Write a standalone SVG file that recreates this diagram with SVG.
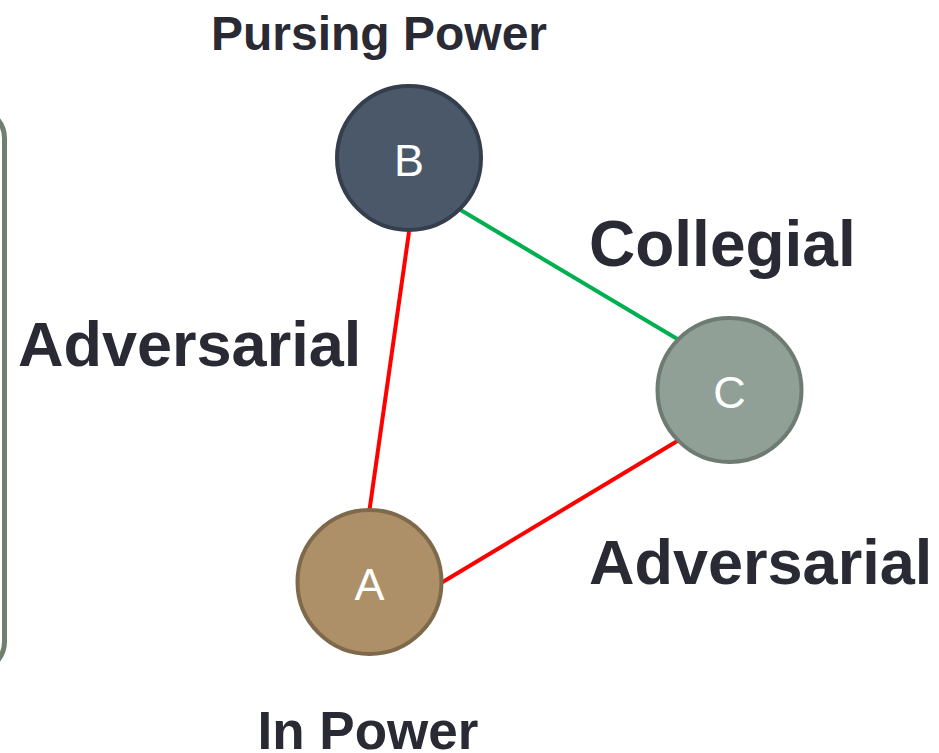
<svg xmlns="http://www.w3.org/2000/svg" width="939" height="753" viewBox="0 0 939 753">
<style>
.lbl{font-family:"Liberation Sans",Arial,sans-serif;font-weight:bold;fill:#2a2a35}
.nl{font-family:"Liberation Sans",Arial,sans-serif;fill:#ffffff;font-size:45px;text-anchor:middle}
.edge{stroke-width:4;fill:none}
</style>
<rect width="939" height="753" fill="#ffffff"/>
<g id="panel">
<rect x="-200" y="108.5" width="204.5" height="563" rx="30" ry="30" fill="none" stroke="#6f7f70" stroke-width="5"/>
</g>
<g id="connectors">
<line class="edge" x1="409" y1="232" x2="369.5" y2="510" stroke="#ff0000"/>
<line class="edge" x1="459" y1="209" x2="679" y2="340" stroke="#00b050"/>
<line class="edge" x1="679" y1="440" x2="441" y2="583" stroke="#ff0000"/>
</g>
<g id="nodeB">
<circle cx="409" cy="158" r="72" fill="#4b5869" stroke="#343e4c" stroke-width="4"/>
<text class="nl" x="409" y="176">B</text>
</g>
<g id="nodeC">
<circle cx="729.5" cy="390" r="72" fill="#90a096" stroke="#6e7b71" stroke-width="4"/>
<text class="nl" x="729.5" y="408">C</text>
</g>
<g id="nodeA">
<circle cx="369.5" cy="582" r="72" fill="#ad8f68" stroke="#7e6a4b" stroke-width="4"/>
<text class="nl" x="369.5" y="600">A</text>
</g>
<g id="labels">
<text class="lbl" x="379" y="50" font-size="48" text-anchor="middle">Pursing Power</text>
<text class="lbl" x="589" y="266" font-size="64">Collegial</text>
<text class="lbl" x="18" y="366" font-size="63">Adversarial</text>
<text class="lbl" x="589" y="584" font-size="63">Adversarial</text>
<text class="lbl" x="368" y="749" font-size="53" text-anchor="middle">In Power</text>
</g>
</svg>
